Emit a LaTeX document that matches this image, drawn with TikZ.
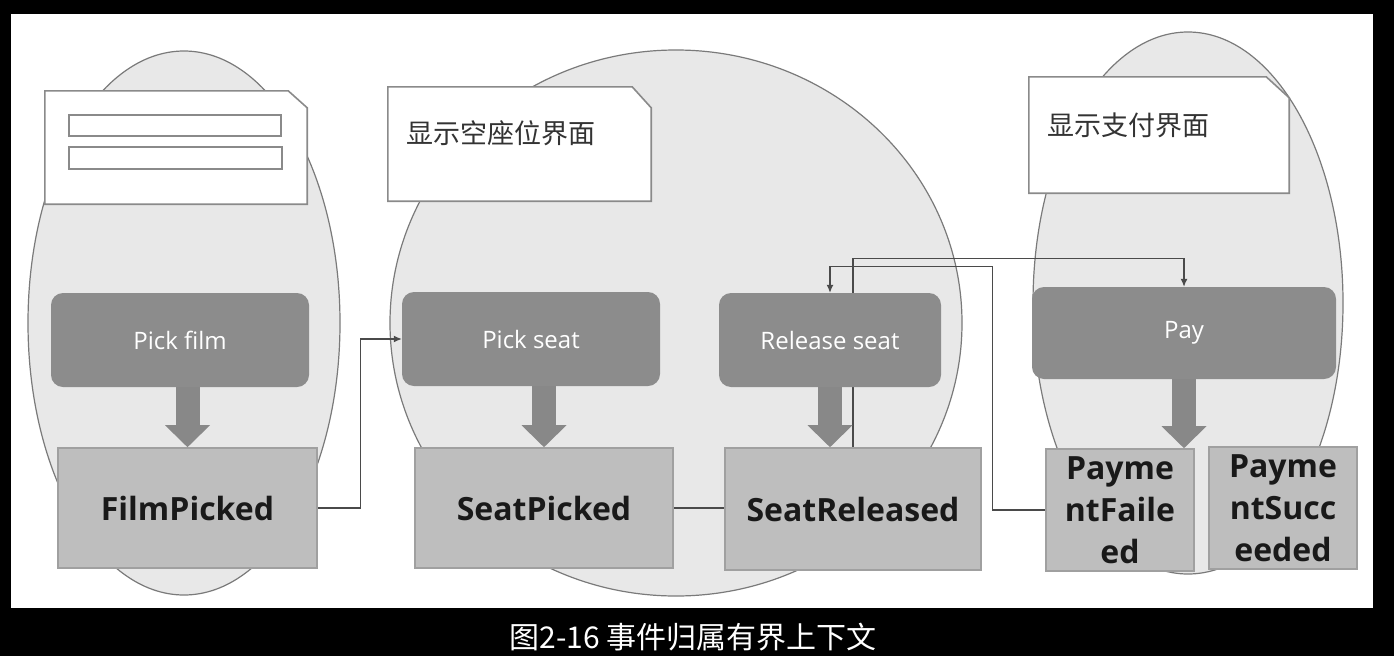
\documentclass[tikz,border=0pt]{standalone}
\usepackage{fontspec}
\setmainfont{Open Sans}
\newfontfamily\cjk{Noto Sans CJK SC}
\usetikzlibrary{arrows.meta}
\definecolor{ctxfill}{HTML}{E8E8E8}
\definecolor{ctxline}{HTML}{7A7A7A}
\definecolor{uiline}{HTML}{8A8A8A}
\definecolor{cmdfill}{HTML}{8C8C8C}
\definecolor{evtfill}{HTML}{BEBEBE}
\definecolor{evtline}{HTML}{A0A0A0}
\definecolor{arrfill}{HTML}{888888}
\definecolor{connline}{HTML}{4A4A4A}
\pgfdeclarelayer{ctxlayer}
\pgfdeclarelayer{wirelayer}
\pgfsetlayers{ctxlayer,wirelayer,main}
\tikzset{
  ctx/.style={fill=ctxfill,draw=ctxline,line width=1.2pt},
  uibox/.style={rectangle,inner sep=0pt},
  uiframe/.style={draw=uiline,fill=white,line width=1.6pt,line join=miter},
  uibar/.style={draw=uiline,fill=white,line width=1.6pt,inner sep=0pt},
  uitxt/.style={font=\cjk\fontsize{27}{30}\selectfont,text=black!80,anchor=west,inner sep=0pt},
  cmd/.style={rectangle,rounded corners=12pt,fill=cmdfill,text=white,
    font=\fontsize{24}{28}\selectfont,inner sep=0pt},
  evt/.style={rectangle,fill=evtfill,draw=evtline,line width=1.6pt,text=black!90,
    font=\bfseries\fontsize{32}{42}\selectfont,align=center,inner sep=0pt},
  blockarr/.style={draw=arrfill,line width=24pt,
    -{Triangle[length=22pt,width=45pt,line width=0pt]}},
  conn/.style={draw=connline,line width=1.2pt},
  tipconn/.style={conn,-{Latex[length=8pt,width=7pt]}},
}
% screen with a folded top right corner
\newcommand{\uiscreen}[3]{%
  \fill[uiframe] (#1.south west) |- ([xshift=-#2]#1.north east)
    -- ([yshift=-#3]#1.north east) -- (#1.south east) -- cycle;}

\begin{document}
\begin{tikzpicture}[x=1pt,y=-1pt]
  \useasboundingbox (0,0) rectangle (1394,656);
  \begin{pgfonlayer}{ctxlayer}
    \fill[black] (0,0) rectangle (1394,656);
    \fill[white] (11,14) rectangle (1373,608);
    % bounded contexts
    \draw[ctx] (184,323) ellipse [x radius=156pt,y radius=272pt];
    \draw[ctx] (676,323) ellipse [x radius=286pt,y radius=273pt];
    \draw[ctx] (1188,303) ellipse [x radius=155pt,y radius=271pt];
    % screens
    \node[uibox,minimum width=262pt,minimum height=113pt] (filmui) at (176,147.5) {};
    \uiscreen{filmui}{19pt}{17pt}
    \node[uibar,minimum width=212pt,minimum height=21pt] (bartop) at (175,125.5) {};
    \node[uibar,minimum width=213pt,minimum height=22pt] (barbottom) at (175.5,158) {};
    \node[uibox,minimum width=263pt,minimum height=114pt] (seatui) at (519.5,144) {};
    \uiscreen{seatui}{19pt}{21pt}
    \node[uitxt] (seatuitxt) at (406,133.5) {显示空座位界面};
    \node[uibox,minimum width=260pt,minimum height=116pt] (payui) at (1159,135) {};
    \uiscreen{payui}{23pt}{21pt}
    \node[uitxt] (payuitxt) at (1047,125) {显示支付界面};
  \end{pgfonlayer}

  \node[cmd,minimum width=258pt,minimum height=94pt] (pickfilm) at (180,340) {Pick film};
  \node[cmd,minimum width=258pt,minimum height=94pt] (pickseat) at (531,339) {Pick seat};
  \node[cmd,minimum width=222pt,minimum height=94pt] (relseat) at (830,340) {Release seat};
  \node[cmd,minimum width=304pt,minimum height=92pt] (pay) at (1184,333) {Pay};

  \node[evt,minimum width=259pt,minimum height=120pt] (filmpicked) at (187.5,508) {FilmPicked};
  \node[evt,minimum width=258pt,minimum height=120pt] (seatpicked) at (544,508) {SeatPicked};
  \node[evt,minimum width=256pt,minimum height=122pt] (seatreleased) at (853,509) {SeatReleased};
  \node[evt,minimum width=148pt,minimum height=122pt] (payfailed) at (1120,510) {Payme\\ntFaile\\ed};
  \node[evt,minimum width=148pt,minimum height=122pt] (paysucceeded) at (1283,508) {Payme\\ntSucc\\eeded};

  \draw[blockarr] (pickfilm.south -| filmpicked.north) -- (filmpicked.north);
  \draw[blockarr] (pickseat.south -| seatpicked.north) -- (seatpicked.north);
  \draw[blockarr] (relseat.south) -- (relseat.south |- seatreleased.north);
  \draw[blockarr] (pay.south) -- (pay.south |- payfailed.north);

  \begin{pgfonlayer}{wirelayer}
    \draw[tipconn] (filmpicked.east) -- ++(43,0) |- (pickseat.west);
    \draw[conn] (seatpicked.east) -- (seatreleased.west |- seatpicked.east);
    \draw[tipconn] (seatreleased.north) |- ([yshift=28pt]pay.north) -- (pay.north);
    \draw[tipconn] (payfailed.west) -- ++(-53,0) |- ([yshift=26pt]relseat.north) -- (relseat.north);
  \end{pgfonlayer}

  \node[font=\cjk\fontsize{30}{34}\selectfont,text=white] (caption) at (693,637)
    {图2-16 事件归属有界上下文};
\end{tikzpicture}
\end{document}
